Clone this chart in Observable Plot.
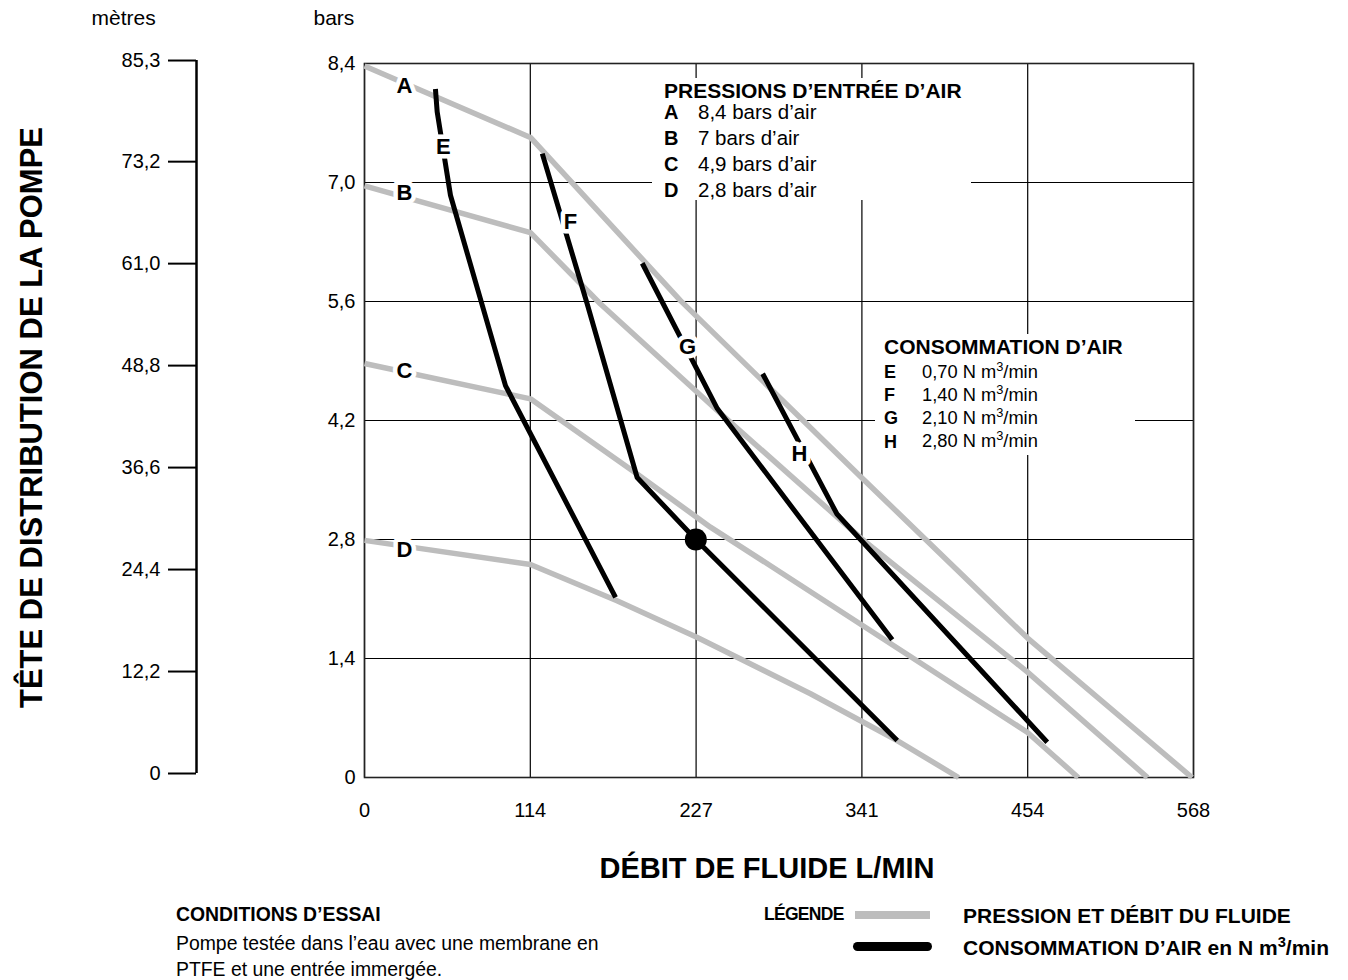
<!DOCTYPE html>
<html><head><meta charset="utf-8">
<script src="https://cdn.jsdelivr.net/npm/d3@7"></script>
<script src="https://cdn.jsdelivr.net/npm/@observablehq/plot@0.6"></script>
<style>
body{margin:0;background:#fff;font-family:"Liberation Sans",Arial,Helvetica,sans-serif;}
#wrap{position:relative;width:1348px;height:980px;overflow:hidden;}
#chart{position:absolute;left:0;top:0;}
.abs{position:absolute;white-space:nowrap;line-height:1;color:#000;}
.b{font-weight:bold;}
.box{position:absolute;background:#fff;}
sup{font-size:0.7em;line-height:0;vertical-align:0.55em;}
</style></head><body>
<div id="wrap"><div id="chart"></div></div>
<script>
// ---- data ----
const seriesA = {flow:[0,113.7,216.5,340.5,454.3,567], bar:[8.37,7.53,5.61,3.53,1.64,0]};
const seriesB = {flow:[0,113.7,161.7,241.5,340.5,454.3,536.5], bar:[6.96,6.41,5.57,4.32,2.81,1.24,0]};
const seriesC = {flow:[0,113.7,186.8,237,285,454.1,489], bar:[4.87,4.455,3.57,2.945,2.415,0.533,0]};
const seriesD = {flow:[0,113.7,173,227.7,305.6,365,407], bar:[2.79,2.506,2.08,1.65,0.985,0.435,0]};
const seriesE = {flow:[48.6,49.8,58.9,96.6,172], bar:[8.1,7.83,6.85,4.61,2.12]};
const seriesF = {flow:[121.8,152.6,186.8,227,365], bar:[7.34,5.57,3.53,2.8,0.435]};
const seriesG = {flow:[190.3,241.7,361.6], bar:[6.05,4.34,1.62]};
const seriesH = {flow:[272.8,323.7,467.8], bar:[4.75,3.10,0.415]};
const pressureNames = ["A","B","C","D"];
const airNames = ["E","F","G","H"];
const opFlow = [227], opBar = [2.8];
const labelNames = ["A","B","C","D","E","F","G","H"];
const labelFlow = [27.4,27.4,27.4,27.4,54.1,141.2,221.3,298];
const labelBar = [8.14,6.88,4.78,2.68,7.42,6.53,5.07,3.81];
const xTickPos = [0,113.6,227.2,340.8,454.4,568];
const xTickLabels = ["0","114","227","341","454","568"];
const barTicks = [0,1.4,2.8,4.2,5.6,7.0,8.4];
const barTickLabels = ["0","1,4","2,8","4,2","5,6","7,0","8,4"];
const metreTicks = [0,12.2,24.4,36.6,48.8,61.0,73.2,85.3];
const metreTickLabels = ["0","12,2","24,4","36,6","48,8","61,0","73,2","85,3"];
const pressureLegend = ["8,4 bars d’air","7 bars d’air","4,9 bars d’air","2,8 bars d’air"];
const airLegend = ["0,70","1,40","2,10","2,80"];

// ---- build tables ----
const toRows = (name, s) => s.flow.map((f,i)=>({series:name, flow:f, bar:s.bar[i]}));
const pressureRows = [["A",seriesA],["B",seriesB],["C",seriesC],["D",seriesD]].flatMap(([n,s])=>toRows(n,s));
const airRows = [["E",seriesE],["F",seriesF],["G",seriesG],["H",seriesH]].flatMap(([n,s])=>toRows(n,s));
const labels = labelNames.map((t,i)=>({t, flow:labelFlow[i], bar:labelBar[i]}));
const op = opFlow.map((f,i)=>({flow:f, bar:opBar[i]}));
const mToBar = d3.scaleLinear([0,85.3],[0.047,8.435]);
const metrePos = metreTicks.map(mToBar);
const metreMap = new Map(metrePos.map((p,i)=>[p, metreTickLabels[i]]));
const barMap = new Map(barTicks.map((p,i)=>[p, barTickLabels[i]]));
const xMap = new Map(xTickPos.map((p,i)=>[p, xTickLabels[i]]));
const FONT = '"Liberation Sans",Arial,Helvetica,sans-serif';

const chart = Plot.plot({
  width:1348, height:900,
  marginLeft:364, marginRight:155, marginTop:63, marginBottom:123,
  style:{fontFamily:FONT, fontSize:"20px", color:"#000", background:"transparent", overflow:"visible"},
  x:{domain:[0,568], label:null},
  y:{domain:[0,8.4], label:null},
  marks:[
    Plot.gridX(xTickPos, {stroke:"#000", strokeOpacity:1, strokeWidth:1.2}),
    Plot.gridY(barTicks, {stroke:"#000", strokeOpacity:1, strokeWidth:1.2}),
    Plot.frame({stroke:"#222", strokeWidth:1.6}),
    Plot.line(pressureRows, {x:"flow", y:"bar", z:"series", stroke:"#bdbdbd", strokeWidth:5.5, strokeLinecap:"butt", strokeLinejoin:"round"}),
    Plot.line(airRows, {x:"flow", y:"bar", z:"series", stroke:"#000", strokeWidth:5, strokeLinecap:"butt", strokeLinejoin:"round"}),
    Plot.dot(op, {x:"flow", y:"bar", r:11, fill:"#000", stroke:null}),
    Plot.text(labels, {x:"flow", y:"bar", text:"t", fontWeight:"bold", fontSize:22, fill:"#000", stroke:"#fff", strokeWidth:9}),
    Plot.axisY(barTicks, {anchor:"left", tickSize:0, tickPadding:9, tickFormat:d=>barMap.get(d), fontSize:20}),
    Plot.axisY(metrePos, {anchor:"left", tickSize:28, tickPadding:8, dx:-168, strokeWidth:2, tickFormat:d=>metreMap.get(d), fontSize:20}),
    Plot.ruleX([0], {y1:mToBar(0), y2:mToBar(85.3), dx:-168, stroke:"#000", strokeWidth:2.5}),
    Plot.axisX(xTickPos, {anchor:"bottom", tickSize:0, tickPadding:25, tickFormat:d=>xMap.get(d), fontSize:20}),
    Plot.text(["TÊTE DE DISTRIBUTION DE LA POMPE"], {text:d=>d, frameAnchor:"left", rotate:-90, dx:-332, dy:-3, textAnchor:"middle", lineAnchor:"middle", fontSize:31, fontWeight:"bold"}),
    Plot.text(["DÉBIT DE FLUIDE L/MIN"], {text:d=>d, frameAnchor:"bottom", dx:-12, dy:91, textAnchor:"middle", lineAnchor:"middle", fontSize:29, fontWeight:"bold"}),
    Plot.text(["mètres"], {text:d=>d, frameAnchor:"top-left", dx:-273, dy:-45, textAnchor:"start", lineAnchor:"middle", fontSize:21}),
    Plot.text(["bars"], {text:d=>d, frameAnchor:"top-left", dx:-51, dy:-45, textAnchor:"start", lineAnchor:"middle", fontSize:21})
  ]
});
document.getElementById("chart").appendChild(chart);

// ---- HTML overlays ----
const wrap = document.getElementById("wrap");
function add(html, left, cy, fs, cls){
  const d = document.createElement("div");
  d.className = "abs " + (cls||"");
  d.style.left = left+"px";
  d.style.top = (cy - 0.49*fs)+"px";
  d.style.fontSize = fs+"px";
  d.innerHTML = html;
  wrap.appendChild(d);
  return d;
}
function box(l,t,w,h){
  const d=document.createElement("div"); d.className="box";
  Object.assign(d.style,{left:l+"px",top:t+"px",width:w+"px",height:h+"px"});
  wrap.appendChild(d);
}
box(652,78,319,122);
add("PRESSIONS D’ENTRÉE D’AIR",664,90.5,21,"b");
pressureNames.forEach((n,i)=>{
  add(n,664,112+i*26,20,"b");
  add(pressureLegend[i],698,112+i*26,20.5);
});
box(875,334,260,121);
add("CONSOMMATION D’AIR",884,346.5,21,"b");
airNames.forEach((n,i)=>{
  add(n,884,371.5+i*23.3,18,"b");
  add(airLegend[i]+" N m<sup>3</sup>/min",922,371.5+i*23.3,18.3);
});
// bottom notes
add("CONDITIONS D’ESSAI",176,915,19.4,"b");
add("Pompe testée dans l’eau avec une membrane en",176,944,19.4);
add("PTFE et une entrée immergée.",176,970,19.4);
const leg = add("LÉGENDE",764,915,17.5,"b");
leg.style.letterSpacing = "-0.7px";
const sw1=document.createElement("div");
Object.assign(sw1.style,{position:"absolute",left:"855px",top:"911px",width:"75px",height:"8px",background:"#bdbdbd"});
wrap.appendChild(sw1);
const sw2=document.createElement("div");
Object.assign(sw2.style,{position:"absolute",left:"853px",top:"942px",width:"79px",height:"9px",background:"#000",borderRadius:"5px"});
wrap.appendChild(sw2);
add("PRESSION ET DÉBIT DU FLUIDE",963,915,21,"b");
add("CONSOMMATION D’AIR en N m<sup>3</sup>/min",963,947,21,"b");
</script>
</body></html>
